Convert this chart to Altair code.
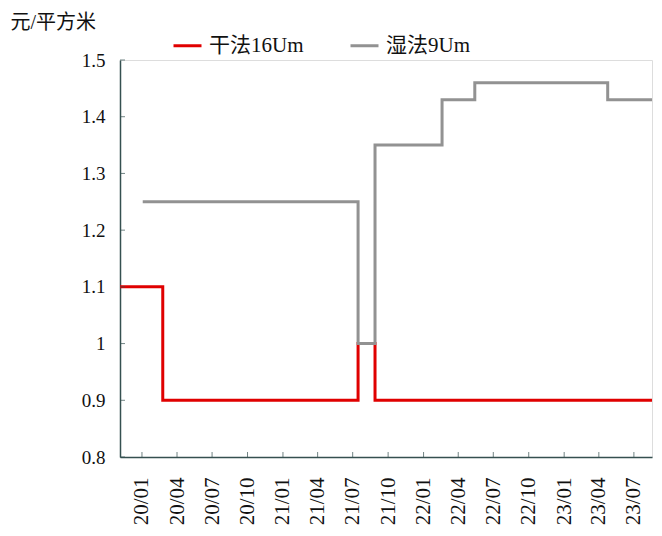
import altair as alt
import pandas as pd

series_names = ["干法16Um", "湿法9Um"]
series_colors = ["#E00000", "#929292"]

dry_dates = ["2019/11/05", "2020/02/24", "2021/07/15", "2021/08/28", "2023/08/17"]
dry_values = [1.1, 0.9, 1.0, 0.9, 0.9]

wet_dates = ["2020/01/03", "2021/07/15", "2021/08/28", "2022/02/18",
             "2022/05/14", "2023/04/24", "2023/08/17"]
wet_values = [1.25, 1.0, 1.35, 1.43, 1.46, 1.43, 1.43]

tick_dates = ["2020/01/01", "2020/04/01", "2020/07/01", "2020/10/01",
              "2021/01/01", "2021/04/01", "2021/07/01", "2021/10/01",
              "2022/01/01", "2022/04/01", "2022/07/01", "2022/10/01",
              "2023/01/01", "2023/04/01", "2023/07/01"]
y_ticks = [0.8, 0.9, 1.0, 1.1, 1.2, 1.3, 1.4, 1.5]

W, H = 532, 397
FONT = "Liberation Serif, Noto Sans CJK SC"
AXIS_COLOR = "#355050"

df = pd.DataFrame({
    "date": dry_dates + wet_dates,
    "value": dry_values + wet_values,
    "series": [series_names[0]] * len(dry_dates) + [series_names[1]] * len(wet_dates),
})


def dt(s):
    y, m, d = [int(p) for p in s.split("/")]
    return alt.DateTime(year=y, month=m, date=d)


x_domain = [dt("2019/11/05"), dt("2023/08/17")]

x_axis = alt.Axis(tickCount={"interval": "month", "step": 3}, format="%y/%m",
                  labelAngle=-90, tickSize=0, grid=False, title=None,
                  labelOverlap=False,
                  domainColor=AXIS_COLOR, domainWidth=1.5,
                  labelFont=FONT, labelFontSize=21, labelColor="#111",
                  labelPadding=20)

lines = alt.Chart(df).mark_line(interpolate="step-after", strokeWidth=3).encode(
    x=alt.X("date:T", scale=alt.Scale(domain=x_domain), axis=x_axis),
    y=alt.Y("value:Q",
            scale=alt.Scale(domain=[0.8, 1.5], nice=False, zero=False),
            axis=alt.Axis(values=y_ticks, format="~g", tickSize=0, grid=False,
                          domainColor=AXIS_COLOR, domainWidth=1.5,
                          labelFont=FONT, labelFontSize=19, labelColor="#111",
                          labelPadding=15,
                          title="元/平方米", titleAngle=0, titleAlign="left",
                          titleBaseline="alphabetic", titleX=-110, titleY=-32,
                          titleFont=FONT, titleFontSize=20, titleFontWeight="normal",
                          titleColor="#111")),
    color=alt.Color("series:N",
                    scale=alt.Scale(domain=series_names, range=series_colors),
                    legend=alt.Legend(orient="none", legendX=52, legendY=-30,
                                      direction="horizontal", title=None,
                                      symbolType="stroke", symbolStrokeWidth=3,
                                      symbolSize=784, labelFont=FONT,
                                      labelFontSize=21, labelColor="#111",
                                      columnPadding=40, labelOffset=6)),
)

xticks = alt.Chart(pd.DataFrame({"date": tick_dates})).mark_tick(
    orient="vertical", size=5, thickness=1, color=AXIS_COLOR
).encode(x=alt.X("date:T", axis=x_axis), y=alt.value(H - 2.5))

yticks = alt.Chart(pd.DataFrame({"value": y_ticks})).mark_tick(
    orient="horizontal", size=5, thickness=1, color=AXIS_COLOR
).encode(y=alt.Y("value:Q"), x=alt.value(2.5))

chart = alt.layer(lines, xticks, yticks).properties(
    width=W, height=H,
    autosize=alt.AutoSizeParams(type="none"),
    padding={"left": 112, "top": 52, "right": 2, "bottom": 72},
).configure_view(stroke=None).configure(font=FONT, background="white")

chart.save("out.html", embed_options={"renderer": "svg", "actions": False})
